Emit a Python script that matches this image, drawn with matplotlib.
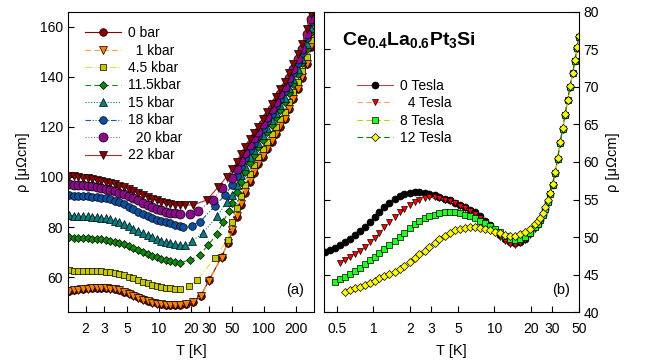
import numpy as np
import matplotlib
matplotlib.use("Agg")
import matplotlib.pyplot as plt

plt.rcParams['font.family'] = ['Liberation Sans', 'DejaVu Sans']
plt.rcParams['mathtext.fontset'] = 'custom'
plt.rcParams['mathtext.rm'] = 'Liberation Sans'
plt.rcParams['mathtext.bf'] = 'Liberation Sans:bold'

# ---- (a) pressure series: rho [uOhm cm] vs T [K] ----
T_low = [1.4, 1.55, 1.7, 1.9, 2.1, 2.3, 2.55, 2.8, 3.1, 3.45, 3.8, 4.2, 4.65,
         5.15, 5.7, 6.3, 7.0, 7.8, 8.6, 9.5, 10.5, 11.6, 12.8, 14.2, 15.7]
T_high = [50, 55, 60, 66, 73, 80, 88, 97, 107, 118, 130, 143, 157, 173, 190,
          210, 230, 255, 280, 300]

p_labels = ['0 bar', '  1 kbar', '4.5 kbar', '11.5kbar', '15 kbar', '18 kbar',
            '  20 kbar', '22 kbar']

rho_low_0 = [54.6, 54.9, 55.1, 55.3, 55.5, 55.6, 55.7, 55.7, 55.7, 55.5, 55.2, 54.8, 54.2,
             53.5, 52.7, 51.9, 51.1, 50.4, 49.9, 49.5, 49.2, 48.9, 48.8, 48.8, 48.9]
rho_low_1 = [54.5, 54.8, 55.0, 55.3, 55.4, 55.6, 55.6, 55.7, 55.6, 55.4, 55.1, 54.7, 54.1,
             53.4, 52.6, 51.8, 51.0, 50.3, 49.8, 49.4, 49.1, 48.8, 48.7, 48.7, 48.8]
rho_low_45 = [62.7, 62.6, 62.6, 62.5, 62.5, 62.4, 62.4, 62.3, 62.2, 62.0, 61.7, 61.3, 60.8,
              60.2, 59.5, 58.9, 58.2, 57.5, 56.9, 56.4, 56.0, 55.7, 55.5, 55.3, 55.2]
rho_low_115 = [75.9, 75.8, 75.7, 75.6, 75.5, 75.4, 75.3, 75.1, 74.9, 74.6, 74.2, 73.7, 73.1,
               72.4, 71.6, 70.8, 70.0, 69.2, 68.5, 67.9, 67.4, 66.9, 66.4, 66.0, 65.7]
rho_low_15 = [84.7, 84.6, 84.5, 84.4, 84.3, 84.2, 84.0, 83.8, 83.5, 83.1, 82.6, 82.0, 81.3,
              80.4, 79.4, 78.5, 77.6, 76.7, 75.9, 75.2, 74.6, 74.1, 73.7, 73.3, 73.0]
rho_low_18 = [92.7, 92.6, 92.5, 92.4, 92.3, 92.2, 92.0, 91.8, 91.5, 91.1, 90.6, 89.9, 89.1,
              88.2, 87.2, 86.2, 85.2, 84.3, 83.6, 83.0, 82.5, 82.0, 81.5, 81.0, 80.5]
rho_low_20 = [97.1, 97.0, 96.9, 96.8, 96.6, 96.4, 96.1, 95.8, 95.4, 94.9, 94.4, 93.8, 93.1,
              92.4, 91.6, 90.8, 89.8, 88.9, 88.0, 87.3, 86.7, 86.2, 85.8, 85.5, 85.3]
rho_low_22 = [100.4, 100.2, 100.0, 99.8, 99.5, 99.2, 98.9, 98.5, 98.1, 97.6, 97.1, 96.5, 95.9,
              95.2, 94.4, 93.6, 92.8, 92.0, 91.4, 90.8, 90.2, 89.7, 89.3, 89.0, 88.9]

T_mid_0 = [18, 21, 25, 30, 39.5, 45]
rho_mid_0 = [49.2, 50.2, 52.5, 58.8, 68.0, 73.5]
T_mid_1 = [18, 21, 25, 30, 39.5, 45]
rho_mid_1 = [49.1, 50.0, 52.3, 58.6, 67.8, 73.6]
T_mid_45 = [19.3, 23, 34, 45]
rho_mid_45 = [56.4, 58.8, 67.6, 75.0]
T_mid_115 = [19.8, 24.5, 29.3, 35.7, 40.7, 46]
rho_mid_115 = [66.8, 68.8, 72.8, 77.2, 82.0, 86.5]
T_mid_15 = [17.5, 20.6, 26, 36, 44]
rho_mid_15 = [72.8, 74.4, 77.5, 84.4, 90.0]
T_mid_18 = [17, 20.6, 24.5, 34, 42.5]
rho_mid_18 = [80.1, 80.6, 82.0, 88.4, 92.8]
T_mid_20 = [19.8, 23.5, 32.7, 40]
rho_mid_20 = [85.2, 86.4, 91.0, 95.6]
T_mid_22 = [17.7, 21, 28.6, 36.6, 44]
rho_mid_22 = [88.8, 88.8, 90.8, 96.0, 100.0]

rho_high_0 = [78.5, 84, 89, 93.5, 98, 101.5, 105, 108, 111, 114, 117, 120, 123, 127,
              131, 135, 139.5, 145, 152, 158]
rho_high_1 = [78.8, 84.4, 89.4, 93.9, 98.3, 101.8, 105.3, 108.3, 111.3, 114.3, 117.3,
              120.3, 123.3, 127.3, 131.3, 135.3, 139.8, 145.3, 152.3, 158.3]
rho_high_45 = [82, 87.5, 92.5, 97, 101.2, 104.7, 108, 111, 114, 117, 120, 123, 126,
               129.9, 133.8, 137.8, 142.2, 147.8, 154.6, 160.4]
rho_high_115 = [89.5, 93.9, 98, 101.8, 105.6, 108.7, 111.8, 114.8, 117.8, 120.8, 123.8,
                126.8, 129.8, 133.5, 137.3, 141.3, 145.6, 151.3, 157.9, 163.4]
rho_high_15 = [92.7, 96.8, 100.6, 104.2, 107.9, 110.8, 113.7, 116.7, 119.7, 122.7, 125.7,
               128.7, 131.7, 135.4, 139.1, 143.1, 147.3, 153.1, 159.5, 165]
rho_high_18 = [96.9, 100.5, 104, 107.4, 110.8, 113.5, 116.3, 119.3, 122.3, 125.3, 128.3,
               131.3, 134.3, 137.9, 141.5, 145.5, 149.6, 155.5, 161.8, 167]
rho_high_20 = [99.8, 103.1, 106.4, 109.6, 112.8, 115.4, 118, 121, 124, 127, 130, 133, 136,
               139.6, 143.2, 147.2, 151.2, 157.2, 163.3, 168.4]
rho_high_22 = [103, 106, 109, 112, 115, 117.5, 120, 123, 126, 129, 132, 135, 138, 141.5,
               145, 149, 153, 159, 165, 170]

p_low = [rho_low_0, rho_low_1, rho_low_45, rho_low_115, rho_low_15, rho_low_18, rho_low_20, rho_low_22]
p_Tmid = [T_mid_0, T_mid_1, T_mid_45, T_mid_115, T_mid_15, T_mid_18, T_mid_20, T_mid_22]
p_mid = [rho_mid_0, rho_mid_1, rho_mid_45, rho_mid_115, rho_mid_15, rho_mid_18, rho_mid_20, rho_mid_22]
p_high = [rho_high_0, rho_high_1, rho_high_45, rho_high_115, rho_high_15, rho_high_18, rho_high_20, rho_high_22]

# ---- (b) field series on a common T grid (nan = not measured) ----
T_b = [0.40, 0.44, 0.48, 0.53, 0.58, 0.64, 0.70, 0.77, 0.85, 0.93, 1.02, 1.12, 1.23,
       1.35, 1.5, 1.65, 1.8, 2.0, 2.2, 2.4, 2.65, 2.9, 3.2, 3.5, 3.9, 4.3, 4.7, 5.2,
       5.7, 6.3, 6.9, 7.6, 8.4, 9.2, 10.1, 11.1, 12.2, 13.4, 14.8, 16.3, 17.9, 19.7,
       21.7, 22.8, 23.9, 25.1, 26.3, 27.6, 28.9, 30.3, 31.8, 33.4, 35, 36.7, 38.5,
       40.4, 42.3, 44.4, 46.5, 48.2, 50]
b_labels = ['0 Tesla', '  4 Tesla', '8 Tesla', '12 Tesla']
nan = np.nan
rho_0T = [48.0, 48.3, 48.6, 49.0, 49.3, 49.8, 50.3, 50.8, 51.4, 52.0, 52.7, 53.4, 54.0,
          54.6, 55.1, 55.5, 55.7, 55.9, 56.0, 56.0, 55.9, 55.8, 55.6, 55.4, 55.1, 54.9, 54.6,
          54.3, 54.0, 53.6, 53.3, 52.8, 52.2, 51.6, 51.0, 50.3, 49.8, 49.4, 49.2, 49.4, 49.8,
          50.5, 51.3, 51.8, 52.3, 53.0, 53.8, 54.7, 55.8, 57.0, 58.5, 60.4, 62.5, 64.4, 66.3,
          68.2, 70.0, 71.8, 73.5, 75.2, 76.7]
rho_4T = [nan, nan, nan, 46.6, 46.9, 47.3, 47.7, 48.2, 48.7, 49.3, 49.9, 50.6, 51.3,
          52.0, 52.7, 53.3, 53.8, 54.3, 54.7, 55.0, 55.2, 55.3, 55.3, 55.2, 55.0, 54.8, 54.5,
          54.2, 53.9, 53.5, 53.1, 52.6, 52.0, 51.4, 50.7, 50.0, 49.5, 49.1, 49.0, 49.2, 49.6,
          50.3, 51.1, 51.6, 52.2, 52.9, 53.7, 54.6, 55.7, 56.9, 58.4, 60.3, 62.4, 64.3, 66.2,
          68.1, 69.9, 71.7, 73.4, 75.1, 76.6]
rho_8T = [nan, nan, 44.0, 44.4, 44.7, 45.1, 45.5, 45.9, 46.4, 46.9, 47.4, 47.9, 48.4,
          48.9, 49.5, 50.0, 50.6, 51.2, 51.7, 52.1, 52.5, 52.8, 53.0, 53.2, 53.3, 53.3, 53.3,
          53.2, 53.0, 52.8, 52.5, 52.2, 51.9, 51.5, 51.1, 50.7, 50.2, 49.8, 49.6, 49.7, 50.0,
          50.6, 51.3, 51.8, 52.3, 53.0, 53.8, 54.7, 55.8, 57.0, 58.5, 60.4, 62.5, 64.4, 66.3,
          68.2, 70.0, 71.8, 73.5, 75.2, 76.7]
rho_12T = [nan, nan, nan, nan, 42.7, 43.0, 43.2, 43.4, 43.6, 43.9, 44.2, 44.5, 44.8,
           45.1, 45.4, 45.8, 46.2, 46.7, 47.2, 47.7, 48.2, 48.7, 49.2, 49.7, 50.2, 50.6, 50.9,
           51.1, 51.2, 51.3, 51.3, 51.2, 51.1, 50.9, 50.7, 50.5, 50.3, 50.2, 50.2, 50.4, 50.7,
           51.1, 51.7, 52.1, 52.6, 53.2, 54.0, 54.9, 55.9, 57.1, 58.6, 60.5, 62.6, 64.5, 66.4,
           68.3, 70.1, 71.9, 73.6, 75.3, 76.8]
b_rho = [rho_0T, rho_4T, rho_8T, rho_12T]

# marker / line styles
p_style = [
    dict(marker='o', mfc='#8b0000', color='#8b0000', ls='-', ms=5.5),
    dict(marker='v', mfc='#ff7f00', color='#ffa040', ls=(0, (5, 3)), ms=5.5),
    dict(marker='s', mfc='#c8c800', color='#dede50', ls=(0, (6, 2, 1, 2)), ms=5.0),
    dict(marker='D', mfc='#0a8a0a', color='#1a8a1a', ls=(0, (5, 3)), ms=4.5),
    dict(marker='^', mfc='#008080', color='#008080', ls=(0, (1, 1.5)), ms=5.5),
    dict(marker='o', mfc='#0a4fa0', color='#1a5aa0', ls=(0, (5, 1.5, 1, 1.5, 1, 1.5)), ms=5.5),
    dict(marker='o', mfc='#8a0a8a', color='#c050c0', ls=(0, (1, 1.5)), ms=6.5),
    dict(marker='v', mfc='#8b0000', color='#a03030', ls='-', ms=5.5),
]
b_style = [
    dict(marker='o', mfc='black', color='#a05050', ls='-', ms=5.0),
    dict(marker='v', mfc='#ff0000', color='#ffa060', ls=(0, (5, 3)), ms=5.0),
    dict(marker='s', mfc='#20ff20', color='#c8c800', ls=(0, (5, 3)), ms=4.5),
    dict(marker='D', mfc='#ffff00', color='#008000', ls=(0, (5, 3)), ms=4.5),
]

fig = plt.figure(figsize=(6.6, 3.62), dpi=100)
ax1 = fig.add_axes([0.103, 0.138, 0.373, 0.829])
ax2 = fig.add_axes([0.491, 0.138, 0.386, 0.829])

for lab, lo, tm, mid, hi, st in zip(p_labels, p_low, p_Tmid, p_mid, p_high, p_style):
    T = T_low + tm + T_high
    rho = lo + mid + hi
    ax1.plot(T, rho, label=lab, lw=0.8, mec='black', mew=0.5, **st)

for lab, rho, st in zip(b_labels, b_rho, b_style):
    ax2.plot(T_b, rho, label=lab, lw=0.8, mec='black', mew=0.5, **st)

ax1.set_xscale('log')
ax1.set_xlim(1.36, 300)
ax1.set_ylim(46, 166)
ax1.set_xticks([2, 3, 5, 10, 20, 30, 50, 100, 200])
ax1.set_xticklabels(['2', '3', '5', '10', '20', '30', '50', '100', '200'])
ax1.xaxis.set_minor_locator(matplotlib.ticker.NullLocator())
ax1.set_yticks([60, 80, 100, 120, 140, 160])
ax1.set_xlabel('T [K]', fontsize=10.5, labelpad=6)
ax1.set_ylabel(r'ρ [μΩcm]', fontsize=10.5, labelpad=7)
ax1.tick_params(direction='in', labelsize=10, length=4)
ax1.tick_params(axis='x', pad=7)
ax1.text(0.96, 0.05, '(a)', transform=ax1.transAxes, ha='right', va='bottom', fontsize=10.5)
ax1.legend(loc='upper left', bbox_to_anchor=(0.025, 0.99), frameon=False, fontsize=10,
           handlelength=2.6, labelspacing=0.25, handletextpad=0.5, borderpad=0.3)

ax2.set_xscale('log')
ax2.set_xlim(0.39, 50)
ax2.set_ylim(40, 80)
ax2.set_xticks([0.5, 1, 2, 3, 5, 10, 20, 30, 50])
ax2.set_xticklabels(['0.5', '1', '2', '3', '5', '10', '20', '30', '50'])
ax2.xaxis.set_minor_locator(matplotlib.ticker.NullLocator())
ax2.set_yticks([40, 45, 50, 55, 60, 65, 70, 75, 80])
ax2.yaxis.tick_right()
ax2.yaxis.set_label_position('right')
ax2.tick_params(axis='y', left=True, right=True)
ax2.set_xlabel('T [K]', fontsize=10.5, labelpad=6)
ax2.set_ylabel(r'ρ [μΩcm]', fontsize=10.5, labelpad=5)
ax2.tick_params(direction='in', labelsize=10, length=4)
ax2.tick_params(axis='x', pad=7)
ax2.text(0.965, 0.05, '(b)', transform=ax2.transAxes, ha='right', va='bottom', fontsize=10.5)
ax2.text(0.07, 0.905, r'$\mathbf{Ce}_{\mathbf{0.4}}\mathbf{La}_{\mathbf{0.6}}\mathbf{Pt}_{\mathbf{3}}\mathbf{Si}$',
         transform=ax2.transAxes, ha='left', va='center', fontsize=14)
ax2.legend(loc='upper left', bbox_to_anchor=(0.085, 0.815), frameon=False, fontsize=10,
           handlelength=2.6, labelspacing=0.25, handletextpad=0.5, borderpad=0.3)

fig.savefig('out.png', dpi=100)
